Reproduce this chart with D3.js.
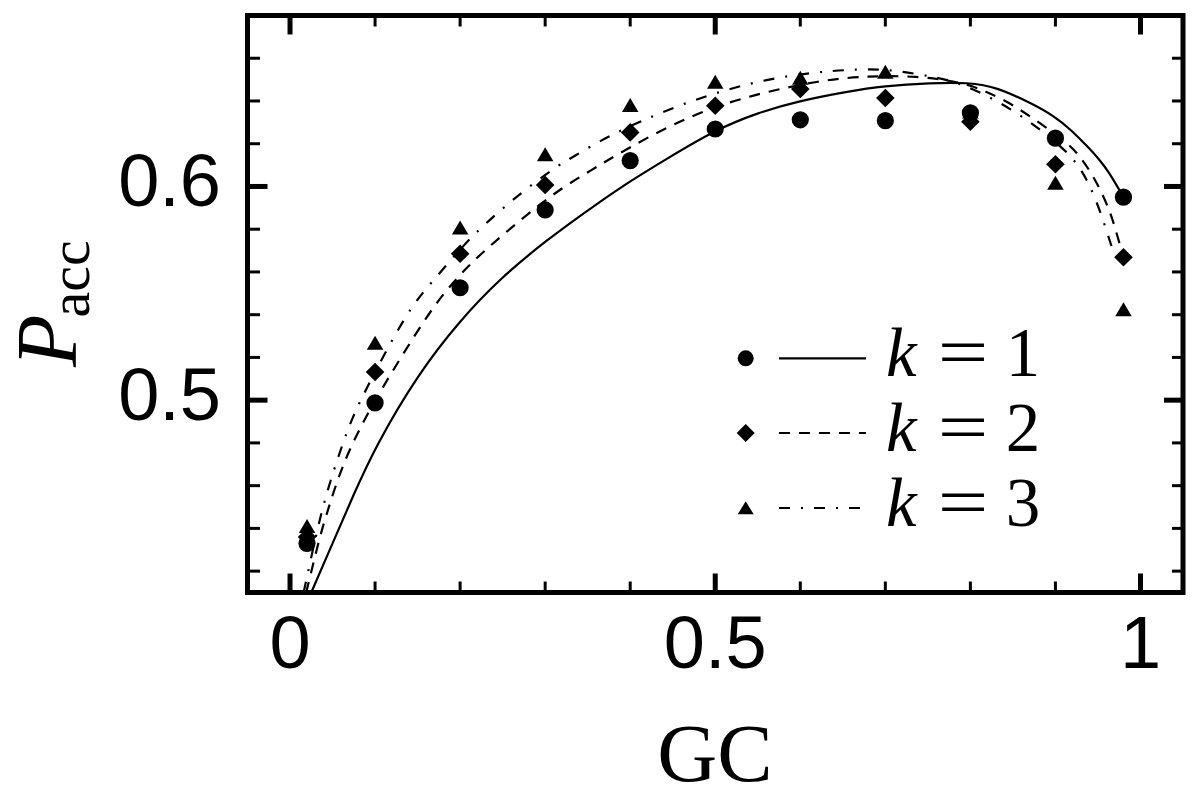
<!DOCTYPE html>
<html>
<head>
<meta charset="utf-8">
<script src="https://cdn.jsdelivr.net/npm/d3@7"></script>
<style>
  html, body { margin: 0; padding: 0; background: #fff; }
  svg { display: block; }
</style>
</head>
<body>
<svg id="chart" width="1200" height="804"></svg>
<script>
// ---------------- data ----------------
const gcPoints = [0.02, 0.1, 0.2, 0.3, 0.4, 0.5, 0.6, 0.7, 0.8, 0.9, 0.98];
const k1Points = [0.433, 0.4987, 0.5526, 0.589, 0.6121, 0.6269, 0.6312, 0.6308, 0.6344, 0.6226, 0.595];
const k2Points = [0.436, 0.5132, 0.5685, 0.6007, 0.6253, 0.6378, 0.6456, 0.6414, 0.6303, 0.6104, 0.5669];
const k3Points = [0.440, 0.5258, 0.5797, 0.614, 0.637, 0.6479, 0.6498, 0.6526, 0.634, 0.6007, 0.5414];

const fitGC1 = [0.025, 0.05, 0.075, 0.1, 0.15, 0.2, 0.246, 0.3, 0.363, 0.4, 0.441, 0.5, 0.55, 0.598, 0.656, 0.698, 0.753, 0.798, 0.831, 0.874, 0.898, 0.917, 0.937, 0.952, 0.964, 0.972, 0.98];
const fitK1  = [0.41, 0.433, 0.456, 0.478, 0.512, 0.5374, 0.5565, 0.5745, 0.5925, 0.6025, 0.6125, 0.6265, 0.6345, 0.640, 0.6445, 0.647, 0.6485, 0.6487, 0.6465, 0.6385, 0.633, 0.627, 0.619, 0.6125, 0.606, 0.6005, 0.595];

const fitGC2 = [0.019, 0.0354, 0.0452, 0.055, 0.0686, 0.0879, 0.1116, 0.1405, 0.1727, 0.209, 0.248, 0.3105, 0.357, 0.379, 0.452, 0.529, 0.6265, 0.679, 0.736, 0.792, 0.8175, 0.847, 0.9, 0.925, 0.948, 0.964, 0.971, 0.98];
const fitK2  = [0.41, 0.4369, 0.4494, 0.4618, 0.4758, 0.4914, 0.5078, 0.5265, 0.5464, 0.563, 0.5767, 0.5973, 0.6082, 0.6137, 0.630, 0.6417, 0.650, 0.6516, 0.6518, 0.6487, 0.6445, 0.6393, 0.6246, 0.6168, 0.6028, 0.5887, 0.5794, 0.567];

const fitGC3 = [0.016, 0.0335, 0.0452, 0.0593, 0.0725, 0.0929, 0.1386, 0.165, 0.209, 0.2247, 0.2586, 0.3124, 0.3326, 0.3706, 0.4527, 0.56, 0.6694, 0.7122, 0.761, 0.7922, 0.847, 0.9, 0.929, 0.9485, 0.966];
const fitK3  = [0.41, 0.4424, 0.4595, 0.4766, 0.4914, 0.5081, 0.542, 0.5545, 0.5747, 0.5806, 0.593, 0.6093, 0.6137, 0.623, 0.6379, 0.6513, 0.6554, 0.6544, 0.651, 0.6479, 0.637, 0.6214, 0.61, 0.5937, 0.572];

const xMajorTicks = [0, 0.5, 1];
const xTickLabels = ["0", "0.5", "1"];
const xMinorTicks = [0.1, 0.2, 0.3, 0.4, 0.6, 0.7, 0.8, 0.9];
const yMajorTicks = [0.5, 0.6];
const yTickLabels = ["0.5", "0.6"];
const yMinorTicks = [0.42, 0.44, 0.46, 0.48, 0.52, 0.54, 0.56, 0.58, 0.62, 0.64, 0.66];
const legendLabels = ["1", "2", "3"];

// ---------------- layout ----------------
const L = 247.5, R = 1183, T = 15.5, B = 592.5;
const x = d3.scaleLinear().domain([-0.05, 1.05]).range([L, R]);
const y = d3.scaleLinear().domain([0.41, 0.68]).range([B, T]);

const svg = d3.select("#chart");

svg.append("defs").append("clipPath").attr("id", "plotclip")
  .append("rect").attr("x", L).attr("y", T).attr("width", R - L).attr("height", B - T);

const styles = [
  { dash: null },
  { dash: "11,9" },
  { dash: "11,11,2,11" }
];

// ---------------- curves ----------------
const line = d3.line().x(d => x(d[0])).y(d => y(d[1])).curve(d3.curveBasis);
const curves = [
  d3.zip(fitGC1, fitK1),
  d3.zip(fitGC2, fitK2),
  d3.zip(fitGC3, fitK3)
];
const gCurves = svg.append("g").attr("clip-path", "url(#plotclip)");
curves.forEach((c, i) => {
  gCurves.append("path")
    .attr("d", line(c))
    .attr("fill", "none")
    .attr("stroke", "#000")
    .attr("stroke-width", 2.2)
    .attr("stroke-dasharray", styles[i].dash);
});

// ---------------- markers ----------------
const triSym = (w, h) => `M0,${-2*h/3}L${w/2},${h/3}L${-w/2},${h/3}Z`;
const diaSym = (r) => `M0,${-r}L${r},0L0,${r}L${-r},0Z`;

const gMarks = svg.append("g");
gMarks.selectAll("path.tri").data(d3.zip(gcPoints, k3Points)).join("path")
  .attr("class", "tri")
  .attr("transform", d => `translate(${x(d[0])},${y(d[1])})`)
  .attr("d", triSym(16.5, 14))
  .attr("fill", "#000");
gMarks.selectAll("path.dia").data(d3.zip(gcPoints, k2Points)).join("path")
  .attr("class", "dia")
  .attr("transform", d => `translate(${x(d[0])},${y(d[1])})`)
  .attr("d", diaSym(9.3))
  .attr("fill", "#000");
gMarks.selectAll("circle.cir").data(d3.zip(gcPoints, k1Points)).join("circle")
  .attr("class", "cir")
  .attr("cx", d => x(d[0])).attr("cy", d => y(d[1]))
  .attr("r", 8.6)
  .attr("fill", "#000");

// ---------------- frame and ticks ----------------
const gAx = svg.append("g").attr("stroke", "#000").attr("stroke-linecap", "butt");
function tick(x1, y1, x2, y2, w) {
  gAx.append("line").attr("x1", x1).attr("y1", y1).attr("x2", x2).attr("y2", y2).attr("stroke-width", w);
}
xMajorTicks.forEach(v => { tick(x(v), B, x(v), B - 19, 5); tick(x(v), T, x(v), T + 19, 5); });
xMinorTicks.forEach(v => { tick(x(v), B, x(v), B - 11, 3); tick(x(v), T, x(v), T + 11, 3); });
yMajorTicks.forEach(v => { tick(L, y(v), L + 20, y(v), 5); tick(R, y(v), R - 19, y(v), 5); });
yMinorTicks.forEach(v => { tick(L, y(v), L + 12.5, y(v), 3); tick(R, y(v), R - 11, y(v), 3); });

svg.append("rect")
  .attr("x", L).attr("y", T).attr("width", R - L).attr("height", B - T)
  .attr("fill", "none").attr("stroke", "#000").attr("stroke-width", 5);

// ---------------- tick labels ----------------
svg.append("g").selectAll("text").data(xMajorTicks).join("text")
  .attr("x", d => x(d)).attr("y", 668)
  .attr("text-anchor", "middle")
  .attr("font-family", "'Liberation Sans', Arial, Helvetica, sans-serif")
  .attr("font-size", 74)
  .text((d, i) => xTickLabels[i]);

svg.append("g").selectAll("text").data(yMajorTicks).join("text")
  .attr("x", 221).attr("y", d => y(d) + 20)
  .attr("text-anchor", "end")
  .attr("font-family", "'Liberation Sans', Arial, Helvetica, sans-serif")
  .attr("font-size", 74)
  .text((d, i) => yTickLabels[i]);

// ---------------- axis titles ----------------
svg.append("text")
  .attr("x", 715).attr("y", 781)
  .attr("text-anchor", "middle")
  .attr("font-family", "'Liberation Serif', 'Times New Roman', serif")
  .attr("font-size", 83)
  .text("GC");

const yTitle = svg.append("text")
  .attr("transform", "translate(76,367) rotate(-90)")
  .attr("font-family", "'Liberation Serif', 'Times New Roman', serif");
yTitle.append("tspan").attr("font-style", "italic").attr("font-size", 86).text("P");
yTitle.append("tspan").attr("font-size", 58).attr("dx", -3).attr("dy", 13).text("acc");

// ---------------- legend ----------------
const legendRows = [358.3, 433, 508];
const gLeg = svg.append("g");
legendRows.forEach((ly, i) => {
  if (i === 0) gLeg.append("circle").attr("cx", 745.7).attr("cy", ly).attr("r", 8).attr("fill", "#000");
  if (i === 1) gLeg.append("path").attr("transform", `translate(745.7,${ly})`).attr("d", diaSym(9)).attr("fill", "#000");
  if (i === 2) gLeg.append("path").attr("transform", `translate(745.7,${ly + 2})`).attr("d", triSym(16, 13)).attr("fill", "#000");
  gLeg.append("line").attr("x1", 779).attr("x2", 866).attr("y1", ly).attr("y2", ly)
    .attr("stroke", "#000").attr("stroke-width", 2.2)
    .attr("stroke-dasharray", styles[i].dash);
  const base = ly + 18;
  gLeg.append("text").attr("x", 886).attr("y", base)
    .attr("font-family", "'Liberation Serif', 'Times New Roman', serif")
    .attr("font-style", "italic").attr("font-size", 69).text("k");
  gLeg.append("text")
    .attr("transform", `translate(963,${base}) scale(1.3,1)`)
    .attr("text-anchor", "middle")
    .attr("font-family", "'Liberation Serif', 'Times New Roman', serif")
    .attr("font-size", 69).text("=");
  gLeg.append("text").attr("x", 1023).attr("y", base)
    .attr("text-anchor", "middle")
    .attr("font-family", "'Liberation Serif', 'Times New Roman', serif")
    .attr("font-size", 69).text(legendLabels[i]);
});
</script>
</body>
</html>
